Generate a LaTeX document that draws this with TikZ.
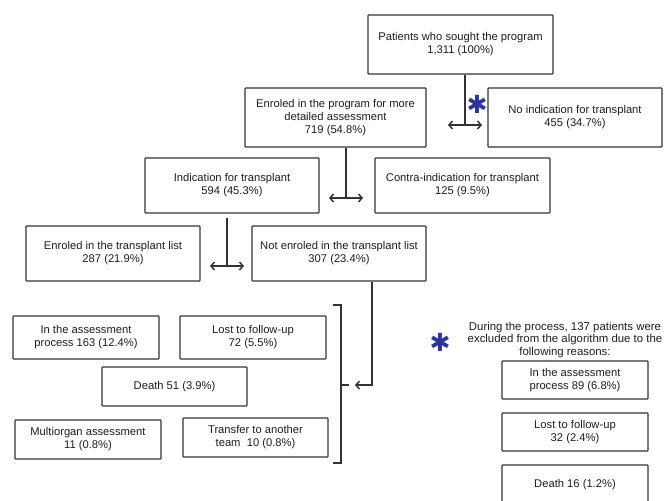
\documentclass[tikz,border=0pt]{standalone}
\usepackage{fontspec}
\setmainfont{Liberation Sans}
\newfontfamily\symfont{DejaVu Sans}
\usetikzlibrary{arrows.meta}
\definecolor{ln}{HTML}{333333}
\definecolor{tx}{HTML}{1E1E1E}
\definecolor{star}{HTML}{2B35A0}
\tikzset{
  box/.style={draw=ln, line width=1.1pt, rounded corners=0.6pt, align=center, inner sep=1pt, text=tx, font=\fontsize{11.2}{13}\selectfont},
  conn/.style={draw=ln, line width=1.5pt},
  dbl/.style={conn, {Straight Barb[length=3.5pt,width=8pt]}-{Straight Barb[length=3.5pt,width=8pt]}},
  sgl/.style={conn, -{Straight Barb[length=3.5pt,width=8pt]}},
  staricon/.style={text=star, font=\symfont\fontsize{25}{25}\selectfont, inner sep=0pt}
}
\begin{document}
\begin{tikzpicture}[x=1pt,y=-1pt]
\useasboundingbox (0,0) rectangle (665,501);
\node[box, minimum width=185pt, minimum height=59pt] (b1) at (460.5,44.5) {Patients who sought the program\\1,311 (100\%)};
\node[box, minimum width=181pt, minimum height=59pt] (b2) at (335.5,117.5) {Enroled in the program for more\\detailed assessment\\719 (54.8\%)};
\node[box, minimum width=174pt, minimum height=59pt] (b3) at (575,117.5) {No indication for transplant\\455 (34.7\%)};
\node[box, minimum width=174pt, minimum height=55pt] (b4) at (232,185.5) {Indication for transplant\\594 (45.3\%)};
\node[box, minimum width=175pt, minimum height=55pt] (b5) at (462.5,185.5) {Contra-indication for transplant\\125 (9.5\%)};
\node[box, minimum width=174pt, minimum height=55pt] (b6) at (113,253.5) {Enroled in the transplant list\\287 (21.9\%)};
\node[box, minimum width=174pt, minimum height=55pt] (b7) at (339,253.5) {Not enroled in the transplant list\\307 (23.4\%)};
\node[box, minimum width=146pt, minimum height=43pt] (b8) at (86,337.5) {In the assessment\\process 163 (12.4\%)};
\node[box, minimum width=146pt, minimum height=43pt] (b9) at (253,337.5) {Lost to follow-up\\72 (5.5\%)};
\node[box, minimum width=145pt, minimum height=39pt] (b10) at (174.5,386.5) {Death 51 (3.9\%)};
\node[box, minimum width=146pt, minimum height=39pt] (b11) at (88,439.5) {Multiorgan assessment\\11 (0.8\%)};
\node[box, minimum width=145pt, minimum height=39pt] (b12) at (255.5,437.5) {Transfer to another\\team~~10 (0.8\%)};
\node[staricon] (s1) at (477,104) {✱};
\node[staricon] (s2) at (440,342) {✱};
\node[align=center, text=tx, font=\fontsize{11.4}{12.6}\selectfont, inner sep=0pt] (note) at (565,340) {During the process, 137 patients were\\excluded from the algorithm due to the\\following reasons:};
\node[box, minimum width=146pt, minimum height=38pt] (b13) at (575,380) {In the assessment\\process 89 (6.8\%)};
\node[box, minimum width=146pt, minimum height=38pt] (b14) at (575,432) {Lost to follow-up\\32 (2.4\%)};
\node[box, minimum width=146pt, minimum height=40pt, text depth=0pt] (b15) at (575,485) {\raisebox{4pt}{Death 16 (1.2\%)}};
% connectors
\coordinate (j1) at (465,125);
\coordinate (a1l) at (448,125);
\coordinate (a1r) at (482,125);
\draw[conn] (b1.south -| j1) -- (j1);
\draw[dbl] (a1l) -- (a1r);
\coordinate (j2) at (346,198);
\coordinate (a2l) at (329,198);
\coordinate (a2r) at (363,198);
\draw[conn] (b2.south -| j2) -- (j2);
\draw[dbl] (a2l) -- (a2r);
\coordinate (j3) at (227,266);
\coordinate (j3t) at (227,218);
\coordinate (a3l) at (210,266);
\coordinate (a3r) at (244,266);
\draw[conn] (j3t) -- (j3);
\draw[dbl] (a3l) -- (a3r);
\coordinate (k1) at (372,385);
\coordinate (k2) at (355,385);
\draw[sgl] (b7.south -| k1) -- (k1) -- (k2);
\coordinate (br1) at (333,305);
\coordinate (br2) at (341,305);
\coordinate (br3) at (341,463);
\coordinate (br4) at (333,463);
\coordinate (bt1) at (341,385);
\coordinate (bt2) at (349,385);
\draw[conn, line width=1.3pt] (br1) -- (br2) -- (br3) -- (br4);
\draw[conn, line width=1.3pt] (bt1) -- (bt2);
\end{tikzpicture}
\end{document}
